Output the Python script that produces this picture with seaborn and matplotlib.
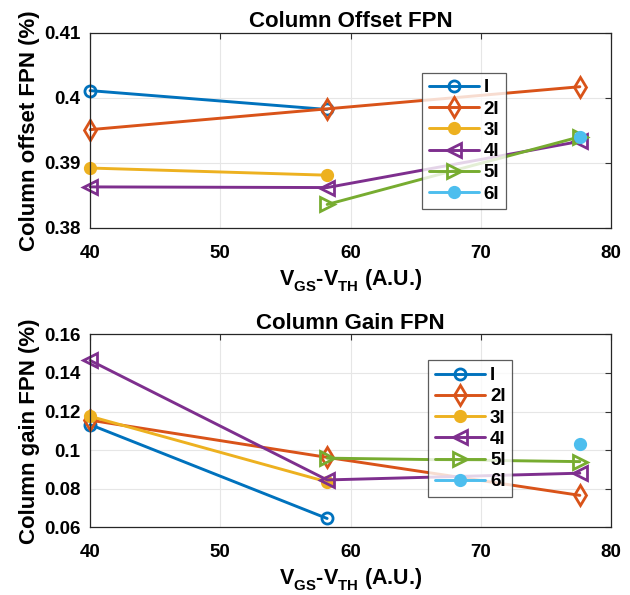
import matplotlib
matplotlib.use("Agg")
import matplotlib.pyplot as plt
import seaborn as sns
import numpy as np

try:
    from matplotlib import _mathtext
    _mathtext.FontConstantsBase.sub1 = 0.55
    _mathtext.FontConstantsBase.sub2 = 0.7
except Exception:
    pass

sns.set_theme(style="white")
plt.rcParams['font.family'] = ['Liberation Sans', 'DejaVu Sans']
plt.rcParams['font.weight'] = 'bold'
plt.rcParams['text.color'] = 'black'
plt.rcParams['axes.labelcolor'] = 'black'
plt.rcParams['xtick.color'] = 'black'
plt.rcParams['ytick.color'] = 'black'
plt.rcParams['mathtext.fontset'] = 'custom'
plt.rcParams['mathtext.rm'] = 'Liberation Sans:bold'
plt.rcParams['mathtext.bf'] = 'Liberation Sans:bold'

series_names = ["I", "2I", "3I", "4I", "5I", "6I"]
colors = ["#0072BD", "#D95319", "#EDB120", "#7E2F8E", "#77AC30", "#4DBEEE"]
markers = ["o", "d", "o", "<", ">", "o"]
filled = [False, False, True, False, False, True]

# Column offset FPN (%)
offset_x = {
    "I": [40, 58.2], "2I": [40, 58.2, 77.6], "3I": [40, 58.2],
    "4I": [40, 58.2, 77.6], "5I": [58.2, 77.6], "6I": [77.6],
}
offset_y = {
    "I": [0.4011, 0.3982], "2I": [0.3951, 0.3983, 0.4017], "3I": [0.3892, 0.3881],
    "4I": [0.3863, 0.3862, 0.3933], "5I": [0.3836, 0.3940], "6I": [0.3939],
}
# Column gain FPN (%)
gain_x = {
    "I": [40, 58.2], "2I": [40, 58.2, 77.6], "3I": [40, 58.2],
    "4I": [40, 58.2, 77.6], "5I": [58.2, 77.6], "6I": [77.6],
}
gain_y = {
    "I": [0.1132, 0.0645], "2I": [0.1155, 0.0962, 0.0765], "3I": [0.1175, 0.0835],
    "4I": [0.1465, 0.0845, 0.0880], "5I": [0.0958, 0.0940], "6I": [0.1030],
}

marker_sizes = {"o": 8, "d": 10, "<": 10, ">": 10}

fig = plt.figure(figsize=(6.3, 5.95), dpi=100)
ax1 = fig.add_axes([0.143, 0.617, 0.827, 0.328])
ax2 = fig.add_axes([0.143, 0.114, 0.827, 0.324])

xlabel = r'V$_{\mathrm{GS}}$-V$_{\mathrm{TH}}$ (A.U.)'

def draw(ax, xs, ys, title, ylabel, ylim, yticks, yticklabels, leg_anchor):
    for name, c, m, f in zip(series_names, colors, markers, filled):
        ms = 7.5 if f else marker_sizes[m]
        sns.lineplot(x=xs[name], y=ys[name], ax=ax, color=c, marker=m,
                     markersize=ms, linewidth=2.1, markeredgewidth=2,
                     markeredgecolor=c, markerfacecolor=(c if f else 'none'),
                     label=name, legend=False, clip_on=False)
    ax.set_xlim(40, 80)
    ax.set_ylim(*ylim)
    ax.set_xticks([40, 50, 60, 70, 80])
    ax.set_yticks(yticks)
    ax.set_yticklabels(yticklabels)
    ax.grid(True, color='#e6e6e6', linewidth=0.8)
    ax.tick_params(direction='in', top=True, right=True, length=4,
                   labelsize=13.5, width=0.8, color='#333333')
    ax.tick_params(axis='x', pad=12)
    ax.tick_params(axis='y', pad=7)
    for lab in ax.get_xticklabels() + ax.get_yticklabels():
        lab.set_fontweight('bold')
    for s in ax.spines.values():
        s.set_color('#262626')
        s.set_linewidth(0.9)
    ax.set_title(title, fontsize=16, fontweight='bold', pad=4)
    ax.set_xlabel(xlabel, fontsize=15.5, fontweight='bold', labelpad=4)
    ax.set_ylabel(ylabel, fontsize=16, fontweight='bold', labelpad=3)
    h, l = ax.get_legend_handles_labels()
    leg = ax.legend(h, l, loc='upper left', bbox_to_anchor=leg_anchor,
                    fontsize=13.5, frameon=True, fancybox=False,
                    edgecolor='#333333', handlelength=2.7, handletextpad=0.25,
                    labelspacing=0.22, borderpad=0.35, borderaxespad=0)
    leg.get_frame().set_linewidth(0.9)
    for t in leg.get_texts():
        t.set_fontweight('bold')

draw(ax1, offset_x, offset_y, "Column Offset FPN", "Column offset FPN (%)",
     (0.38, 0.41), [0.38, 0.39, 0.40, 0.41], ["0.38", "0.39", "0.4", "0.41"],
     (0.637, 0.795))
draw(ax2, gain_x, gain_y, "Column Gain FPN", "Column gain FPN (%)",
     (0.06, 0.16), [0.06, 0.08, 0.10, 0.12, 0.14, 0.16],
     ["0.06", "0.08", "0.1", "0.12", "0.14", "0.16"],
     (0.649, 0.865))

fig.savefig("out.png", dpi=100)
